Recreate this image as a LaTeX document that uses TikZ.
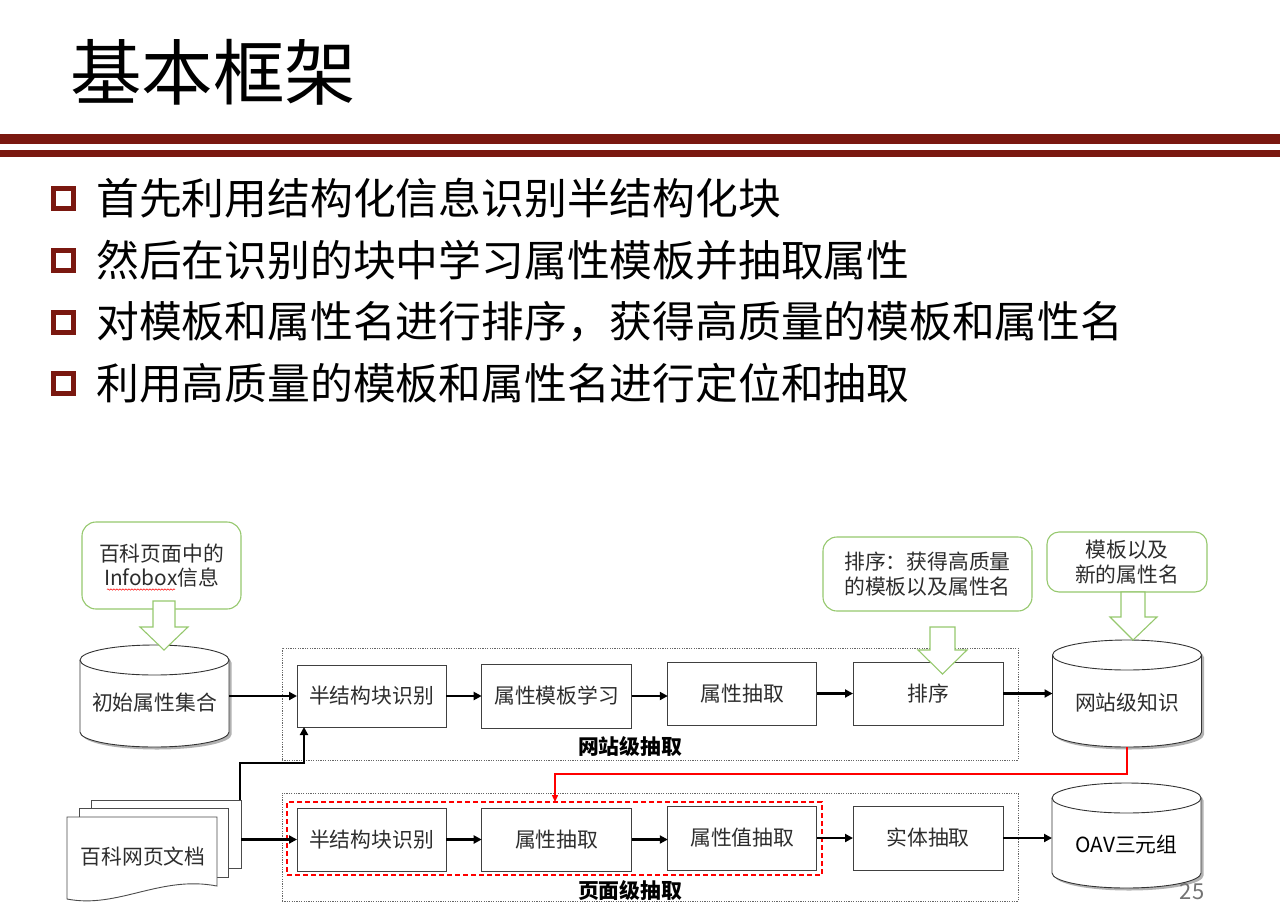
\documentclass[tikz,border=0pt]{standalone}
\usepackage{fontspec}
\setmainfont{Noto Sans CJK SC}
\usetikzlibrary{arrows.meta,shadows,decorations.pathmorphing,calc}
\definecolor{hdr}{RGB}{122,24,16}
\definecolor{gline}{RGB}{150,200,110}
\definecolor{boxline}{RGB}{64,64,64}
\definecolor{txt}{RGB}{45,45,45}
\newcommand\dgmfont{\fontsize{20.8}{24.5}\selectfont}
\newcommand\blfont{\fontsize{42.8}{50}\selectfont}
\newcommand\drawcyl[1]{%
  \path[draw=black!80, line width=0.9pt, fill=white,
        drop shadow={shadow xshift=2.5pt,shadow yshift=-2.5pt,opacity=0.3,fill=black}]
    ([yshift=-15pt]#1.north west) -- ([yshift=15pt]#1.south west)
    arc[start angle=180,end angle=360,x radius=74.5pt,y radius=15pt]
    -- ([yshift=-15pt]#1.north east)
    arc[start angle=0,end angle=180,x radius=74.5pt,y radius=15pt] -- cycle;
  \draw[black!80, line width=0.9pt] ([yshift=-15pt]#1.north west)
    arc[start angle=180,end angle=360,x radius=74.5pt,y radius=15pt];}
\tikzset{
  procbox/.style={draw=boxline, line width=0.9pt, fill=white, text=txt, font=\dgmfont, inner sep=0pt, outer sep=0pt},
  frame/.style={draw=black!60, dash pattern=on 1.2pt off 1.2pt, line width=0.8pt, inner sep=0pt, outer sep=0pt},
  gbox/.style={draw=gline, line width=1.1pt, rounded corners=14pt, fill=white, text=txt, font=\dgmfont, align=center, inner sep=0pt, outer sep=0pt},
  arr/.style={line width=2.3pt, -{Triangle[length=8pt,width=8pt]}},
  redarr/.style={draw=red, line width=1.4pt, -{Triangle[length=7pt,width=6pt]}},
  blockarr/.style={draw=gline, line width=1.1pt, fill=white, line join=miter},
  lbl/.style={font=\dgmfont\bfseries, text=black, inner sep=0pt},
  cylnode/.style={inner sep=0pt, outer sep=0pt, minimum width=149pt},
  cyltext/.style={text=txt, font=\dgmfont, inner sep=0pt},
  page/.style={draw=black!70, line width=0.9pt, fill=white, inner sep=0pt, outer sep=0pt},
  bullet/.style={draw=hdr, line width=5pt, fill=white, minimum size=20pt, inner sep=0pt, outer sep=0pt},
  btext/.style={anchor=west, font=\blfont, text=black, inner sep=0pt},
}
\begin{document}
\begin{tikzpicture}[x=1pt,y=-1pt]
\useasboundingbox (0,0) rectangle (1280,916);
\fill[white] (0,0) rectangle (1280,916);

% header
\node[anchor=west, inner sep=0pt, font=\fontsize{71.5}{80}\selectfont] (title) at (70,72) {基本框架};
\fill[hdr] (0,134) rectangle (1280,144);
\fill[hdr] (0,150) rectangle (1280,157);

% bullets
\node[bullet] (b1) at (63.5,198.5) {};
\node[bullet] (b2) at (63.5,260.5) {};
\node[bullet] (b3) at (63.5,322) {};
\node[bullet] (b4) at (63.5,383.5) {};
\node[btext] (t1) at (96,198.5) {首先利用结构化信息识别半结构化块};
\node[btext] (t2) at (96,260.5) {然后在识别的块中学习属性模板并抽取属性};
\node[btext] (t3) at (96,322) {对模板和属性名进行排序，获得高质量的模板和属性名};
\node[btext] (t4) at (96,383.5) {利用高质量的模板和属性名进行定位和抽取};

% frames
\node[frame, minimum width=736pt, minimum height=112pt] (f1) at (650,704) {};
\node[frame, minimum width=736pt, minimum height=108pt] (f2) at (650,847) {};
\node[lbl] (l1) at (630,746.5) {网站级抽取};
\node[lbl] (l2) at (630,891) {页面级抽取};
\node[draw=red, line width=1.7pt, dash pattern=on 5pt off 3pt, inner sep=0pt, outer sep=0pt,
      minimum width=535pt, minimum height=73pt] (rf) at (554.5,838.5) {};

% green boxes
\node[gbox, minimum width=159pt, minimum height=87pt] (g1) at (161.5,565.5) {百科页面中的\\Infobox信息};
\draw[red, line width=0.5pt, decorate, decoration={snake, amplitude=0.7pt, segment length=3pt}] (107,589.5) -- (175,589.5);
\node[gbox, minimum width=209pt, minimum height=74pt] (g2) at (927.5,574) {排序：获得高质量\\的模板以及属性名};
\node[gbox, rounded corners=12pt, minimum width=160pt, minimum height=60pt] (g3) at (1127,562) {模板以及\\新的属性名};

% cylinders
\node[cylnode, minimum height=102pt] (c1) at (154.5,696) {};
\drawcyl{c1}
\node[cyltext] (c1t) at ($(c1.center)+(0,7)$) {初始属性集合};
\node[cylnode, minimum height=107pt] (c2) at (1127,693.5) {};
\drawcyl{c2}
\node[cyltext] (c2t) at ($(c2.center)+(0,9.5)$) {网站级知识};
\node[cylnode, minimum height=105pt] (c3) at (1126.5,835.5) {};
\drawcyl{c3}
\node[cyltext, text=black] (c3t) at ($(c3.center)+(0,9.5)$) {OAV三元组};

% document stack
\node[page, minimum width=150pt, minimum height=68pt] (dback) at (166,834) {};
\node[page, minimum width=149pt, minimum height=69pt] (dmid) at (153.5,842.5) {};
\node[inner sep=0pt, outer sep=0pt, minimum width=150pt, minimum height=83pt] (dfront) at (142,858.5) {};
\path[page] (dfront.north west) -- (67,899) .. controls (118,909) and (160,875) .. (217,886) -- (dfront.north east) -- cycle;
\node[cyltext] (dt) at (143,857) {百科网页文档};

% process boxes row 1
\node[procbox, minimum width=149pt, minimum height=62pt] (r1a) at (371.5,696) {半结构块识别};
\node[procbox, minimum width=150pt, minimum height=64pt] (r1b) at (556.7,696) {属性模板学习};
\node[procbox, minimum width=149pt, minimum height=63pt] (r1c) at (742.3,693.5) {属性抽取};
\node[procbox, minimum width=150pt, minimum height=63pt] (r1d) at (928,693.5) {排序};
% row 2
\node[procbox, minimum width=149pt, minimum height=63pt] (r2a) at (371.5,839.5) {半结构块识别};
\node[procbox, minimum width=150pt, minimum height=63pt] (r2b) at (556.7,839.5) {属性抽取};
\node[procbox, minimum width=149pt, minimum height=64pt] (r2c) at (742.3,838) {属性值抽取};
\node[procbox, minimum width=150pt, minimum height=64pt] (r2d) at (928,838) {实体抽取};

% connectors
\draw[arr] (c1.east) -- (r1a.west);
\draw[arr] (r1a.east) -- (r1b.west |- r1a.east);
\draw[arr] (r1b.east) -- (r1c.west |- r1b.east);
\draw[arr] (r1c.east |- r1d.west) -- (r1d.west);
\draw[arr] (r1d.east) -- (c2.west |- r1d.east);
\draw[arr] (dback.east |- r2a.west) -- (r2a.west);
\draw[arr] (r2a.east) -- (r2b.west |- r2a.east);
\draw[arr] (r2b.east) -- (r2c.west |- r2b.east);
\draw[arr] (r2c.east |- r2d.west) -- (r2d.west);
\draw[arr] (r2d.east) -- (c3.west |- r2d.east);
\coordinate (j1) at (304,763);
\draw[arr] ([xshift=-1pt]dback.north east) |- (j1) -- ([xshift=7pt]r1a.south west);
\coordinate (j3) at (555,774);
\draw[redarr] (c2.south) |- (j3) -- (j3 |- rf.north);

% hollow green arrows
\draw[blockarr] (153,601) -- (153,627) -- (140,627) -- (164,650) -- (188,627) -- (175,627) -- (175,601) -- cycle;
\draw[blockarr] (930,627) -- (930,650) -- (918,650) -- (942.5,674) -- (967,650) -- (955,650) -- (955,627) -- cycle;
\draw[blockarr] (1121,592) -- (1121,617) -- (1110,617) -- (1133,640) -- (1157,617) -- (1145,617) -- (1145,592) -- cycle;

% page number
\node[text=black!55, font=\fontsize{22}{26}\selectfont, inner sep=0pt] (pn) at (1192,892) {25};
\end{tikzpicture}
\end{document}
